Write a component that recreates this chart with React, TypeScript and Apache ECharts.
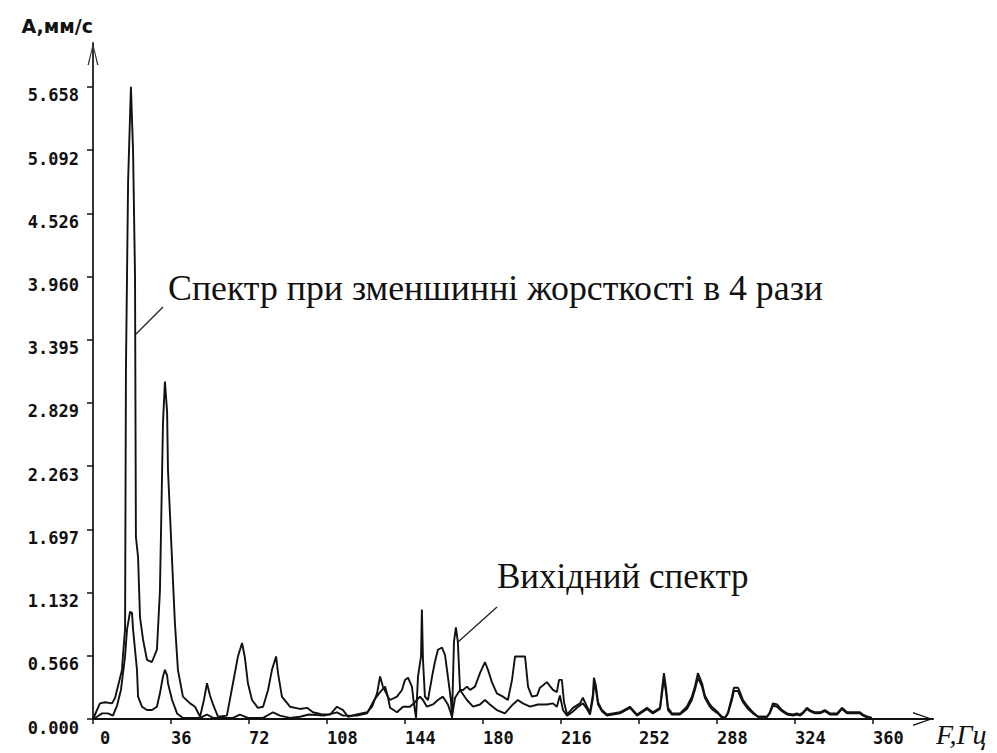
import React, { useEffect, useRef } from "react";
import * as echarts from "echarts";

// Spectrum with stiffness reduced 4 times (Hz, mm/s)
const freqReduced = [
  0, 3.2, 5.5, 8.8, 10.2, 11.5, 13.4, 13.8, 14.8, 15.2, 16.2, 17.5, 18.5, 19.4, 19.8, 20.8, 21.7, 23.1, 24.9, 27.2,
  29.5, 30.9, 32.3, 33.2, 34.2, 34.6, 36.0, 37.8, 39.2, 41.5, 44.8, 47.1, 49.4, 51.2, 52.6, 54.0, 55.4, 57.7, 61.8, 64.6,
  66.9, 68.8, 70.1, 71.5, 73.4, 76.1, 78.5, 80.8, 82.6, 84.5, 85.4, 87.2, 90.9, 95.5, 98.8, 101.5, 105.7, 109.4, 112.6, 115.4,
  117.7, 121.8, 126.5, 128.8, 131.1, 132.5, 133.8, 136.1, 137.1, 140.3, 143.1, 146.3, 148.6, 150.9, 152.3, 154.1, 156.9, 159.2, 161.5, 163.8,
  165.7, 167.1, 169.4, 172.6, 175.4, 178.6, 180.9, 183.2, 186.4, 190.1, 193.8, 196.1, 198.4, 201.7, 205.4, 209.5, 212.3, 214.1, 215.5, 216.9,
  218.8, 221.1, 223.4, 226.1, 228.0, 229.4, 230.8, 231.2, 232.1, 233.1, 234.9, 237.2, 243.2, 247.8, 251.1, 255.7, 258.4, 261.7, 262.6, 263.5,
  264.4, 265.4, 267.2, 270.9, 274.1, 276.4, 277.8, 279.2, 281.1, 282.4, 284.7, 286.1, 288.4, 290.3, 291.7, 293.1, 294.9, 295.8, 297.7, 298.6,
  300.0, 302.3, 304.6, 306.9, 311.1, 312.4, 313.8, 315.7, 318.0, 320.3, 323.1, 324.9, 326.3, 327.7, 329.5, 330.9, 333.2, 335.5, 337.8, 340.1,
  343.4, 345.7, 348.0, 354.0, 355.4, 357.7, 359.5,
];
const ampReduced = [
  0, 0.14, 0.15, 0.14, 0.19, 0.29, 0.44, 0.56, 0.8, 3.12, 4.81, 5.658, 5.08, 3.95, 1.63, 1.45, 0.91, 0.71, 0.53, 0.51,
  0.62, 1.15, 2.65, 3.02, 2.75, 2.23, 1.63, 0.86, 0.44, 0.2, 0.14, 0.11, 0.02, 0.17, 0.32, 0.21, 0.13, 0.02, 0.03, 0.32,
  0.56, 0.68, 0.55, 0.32, 0.17, 0.1, 0.11, 0.26, 0.44, 0.56, 0.41, 0.2, 0.11, 0.09, 0.1, 0.06, 0.04, 0.04, 0.11, 0.08,
  0.02, 0.04, 0.06, 0.11, 0.23, 0.38, 0.29, 0.2, 0.1, 0.06, 0.11, 0.11, 0.15, 0.2, 0.17, 0.11, 0.13, 0.17, 0.2, 0.13,
  0.02, 0.19, 0.26, 0.17, 0.11, 0.13, 0.17, 0.13, 0.08, 0.05, 0.13, 0.17, 0.14, 0.11, 0.13, 0.13, 0.14, 0.11, 0.21, 0.08,
  0.03, 0.06, 0.1, 0.14, 0.09, 0.04, 0.19, 0.31, 0.26, 0.13, 0.07, 0.03, 0.05, 0.1, 0.03, 0.09, 0.05, 0.09, 0.22, 0.36,
  0.25, 0.08, 0.04, 0.04, 0.09, 0.17, 0.26, 0.37, 0.29, 0.19, 0.11, 0.08, 0.05, 0.01, 0.01, 0.05, 0.17, 0.25, 0.25, 0.21,
  0.15, 0.09, 0.05, 0.02, 0.02, 0.05, 0.12, 0.11, 0.07, 0.04, 0.03, 0.04, 0.03, 0.05, 0.09, 0.07, 0.05, 0.05, 0.07, 0.04,
  0.04, 0.09, 0.05, 0.05, 0.03, 0.01, 0.0,
];

// Original spectrum (Hz, mm/s)
const freqOriginal = [
  0, 1.8, 4.2, 6.9, 9.2, 11.1, 12.9, 14.8, 15.7, 17.1, 18.0, 18.5, 19.4, 20.3, 20.8, 22.6, 24.9, 27.2, 29.5, 30.9,
  32.3, 33.2, 34.2, 34.6, 36.5, 38.8, 41.5, 49.4, 52.6, 55.4, 64.6, 67.8, 71.5, 78.5, 83.1, 86.3, 90.9, 95.5, 99.7, 106.6,
  112.6, 115.4, 121.8, 126.5, 129.8, 132.5, 134.8, 136.1, 137.1, 140.3, 142.6, 144.0, 145.4, 147.2, 148.1, 149.1, 150.0, 151.4, 151.8, 152.3,
  153.2, 154.6, 156.5, 157.8, 159.2, 161.1, 162.5, 163.8, 165.2, 165.7, 166.6, 167.5, 168.4, 169.4, 170.8, 172.6, 174.0, 176.3, 178.6, 180.9,
  182.3, 184.1, 186.4, 189.2, 191.5, 193.4, 194.8, 199.4, 200.8, 202.6, 204.9, 206.3, 209.5, 212.3, 214.1, 215.1, 216.4, 217.4, 218.8, 221.5,
  224.8, 226.1, 228.0, 229.4, 230.8, 231.2, 232.1, 233.1, 234.9, 237.2, 243.2, 247.8, 251.1, 255.7, 258.4, 261.7, 262.6, 263.5, 264.4, 265.4,
  267.2, 270.9, 274.1, 276.4, 277.8, 279.2, 281.1, 282.4, 284.7, 286.1, 288.4, 290.3, 291.7, 293.1, 294.9, 295.8, 297.7, 298.6, 300.0, 302.3,
  304.6, 306.9, 311.1, 312.4, 313.8, 315.7, 318.0, 320.3, 323.1, 324.9, 326.3, 327.7, 329.5, 330.9, 333.2, 335.5, 337.8, 340.1, 343.4, 345.7,
  348.0, 354.0, 355.4, 357.7, 359.5,
];
const ampOriginal = [
  0, 0.02, 0.05, 0.05, 0.03, 0.12, 0.26, 0.56, 0.8, 0.96, 0.95, 0.8, 0.62, 0.44, 0.2, 0.11, 0.08, 0.08, 0.11, 0.23,
  0.38, 0.44, 0.39, 0.32, 0.17, 0.05, 0.01, 0.01, 0.04, 0.01, 0.01, 0.04, 0.01, 0.01, 0.06, 0.03, 0.01, 0.02, 0.04, 0.03,
  0.06, 0.03, 0.03, 0.05, 0.17, 0.24, 0.29, 0.2, 0.17, 0.2, 0.26, 0.35, 0.37, 0.29, 0.14, 0.01, 0.38, 0.56, 0.98, 0.53,
  0.2, 0.17, 0.38, 0.51, 0.62, 0.64, 0.57, 0.38, 0.17, 0.01, 0.69, 0.82, 0.69, 0.26, 0.26, 0.29, 0.26, 0.29, 0.41, 0.51,
  0.44, 0.33, 0.23, 0.2, 0.17, 0.35, 0.56, 0.56, 0.29, 0.2, 0.21, 0.28, 0.33, 0.26, 0.24, 0.35, 0.35, 0.15, 0.04, 0.1,
  0.14, 0.19, 0.11, 0.06, 0.23, 0.37, 0.3, 0.15, 0.08, 0.04, 0.06, 0.11, 0.04, 0.1, 0.06, 0.1, 0.26, 0.41, 0.29, 0.1,
  0.05, 0.05, 0.11, 0.2, 0.29, 0.41, 0.32, 0.21, 0.13, 0.1, 0.06, 0.02, 0.01, 0.06, 0.2, 0.28, 0.28, 0.24, 0.17, 0.11,
  0.06, 0.02, 0.02, 0.06, 0.14, 0.13, 0.08, 0.05, 0.04, 0.05, 0.04, 0.06, 0.1, 0.08, 0.06, 0.06, 0.08, 0.05, 0.05, 0.1,
  0.06, 0.06, 0.04, 0.02, 0.01,
];

const xTickLabels = ["0", "36", "72", "108", "144", "180", "216", "252", "288", "324", "360"];
const yTickLabels = ["0.000", "0.566", "1.132", "1.697", "2.263", "2.829", "3.395", "3.960", "4.526", "5.092", "5.658"];

const yAxisTitle = "A,мм/с";
const xAxisTitle = "F,Гц";
const labelReduced = "Спектр при зменшинні жорсткості в 4 рази";
const labelOriginal = "Вихідний спектр";

const toPairs = (f: number[], a: number[]) => f.map((x, i) => [x, a[i]]);

const tickFont = {
  fontFamily: "DejaVu Sans Mono",
  fontWeight: "bold" as const,
  fontSize: 17,
  color: "#111",
};

export default function App() {
  const ref = useRef<HTMLDivElement>(null);

  useEffect(() => {
    if (!ref.current) return;
    const chart = echarts.init(ref.current, null, { renderer: "svg" });
    const arrowY = "path://M5.5,0 L11,22 L9.6,22 L5.5,3.5 L1.4,22 L0,22 Z";
    const arrowX = "path://M7,0 L14,20 L12.6,20 L7,3.5 L1.4,20 L0,20 Z";
    chart.setOption({
      animation: false,
      backgroundColor: "#ffffff",
      grid: { left: 93, right: 64, top: 43, bottom: 34, containLabel: false },
      xAxis: {
        type: "value",
        min: 0,
        max: 387.7,
        name: xAxisTitle,
        nameLocation: "end",
        nameGap: 3,
        nameTextStyle: {
          fontFamily: "Liberation Serif",
          fontStyle: "italic",
          fontSize: 28,
          color: "#111",
          align: "left",
          verticalAlign: "top",
          padding: [1, 0, 0, 0],
        },
        axisLine: {
          show: true,
          symbol: ["none", arrowX],
          symbolSize: [14, 20],
          symbolOffset: [0, -10],
          lineStyle: { color: "#111", width: 2 },
        },
        axisTick: {
          show: true,
          length: 5,
          customValues: xTickLabels.map(Number),
          lineStyle: { color: "#111", width: 1.5 },
        },
        axisLabel: {
          ...tickFont,
          customValues: xTickLabels.map(Number),
          align: "left",
          margin: 10,
          formatter: (v: number) => (v === 0 ? "{z|0}" : String(v)),
          rich: { z: { ...tickFont, padding: [0, 0, 0, 7] } },
        },
        splitLine: { show: false },
      },
      yAxis: {
        type: "value",
        min: 0,
        max: 6.05,
        name: yAxisTitle,
        nameLocation: "end",
        nameGap: 8,
        nameTextStyle: {
          fontFamily: "DejaVu Sans",
          fontWeight: "bold",
          fontSize: 19,
          color: "#111",
          align: "right",
          verticalAlign: "bottom",
        },
        axisLine: {
          show: true,
          symbol: ["none", arrowY],
          symbolSize: [11, 22],
          symbolOffset: [0, -11],
          lineStyle: { color: "#333", width: 2 },
        },
        axisTick: {
          show: true,
          length: 6,
          customValues: yTickLabels.map(Number),
          lineStyle: { color: "#111", width: 1.5 },
        },
        axisLabel: {
          ...tickFont,
          customValues: yTickLabels.map(Number),
          margin: 14,
          verticalAlign: "top",
          formatter: (v: number) => v.toFixed(3),
        },
        splitLine: { show: false },
      },
      series: [
        {
          name: labelReduced,
          type: "line",
          data: toPairs(freqReduced, ampReduced),
          symbol: "none",
          lineStyle: { color: "#111", width: 1.9 },
        },
        {
          name: labelOriginal,
          type: "line",
          data: toPairs(freqOriginal, ampOriginal),
          symbol: "none",
          lineStyle: { color: "#111", width: 1.9 },
        },
      ],
      graphic: [
        {
          type: "text",
          left: 168,
          top: 270,
          style: {
            text: labelReduced,
            fontFamily: "Liberation Serif",
            fontSize: 35.8,
            fill: "#111",
          },
        },
        {
          type: "text",
          left: 497,
          top: 559,
          style: {
            text: labelOriginal,
            fontFamily: "Liberation Serif",
            fontSize: 35,
            fill: "#111",
          },
        },
        {
          type: "line",
          shape: { x1: 135, y1: 335, x2: 163, y2: 307 },
          style: { stroke: "#222", lineWidth: 1.3 },
        },
        {
          type: "line",
          shape: { x1: 458, y1: 642, x2: 497, y2: 607 },
          style: { stroke: "#222", lineWidth: 1.3 },
        },
      ],
    });
    return () => chart.dispose();
  }, []);

  return (
    <div
      ref={ref}
      style={{ position: "absolute", left: 0, top: 0, width: 997, height: 753, background: "#fff" }}
    />
  );
}
